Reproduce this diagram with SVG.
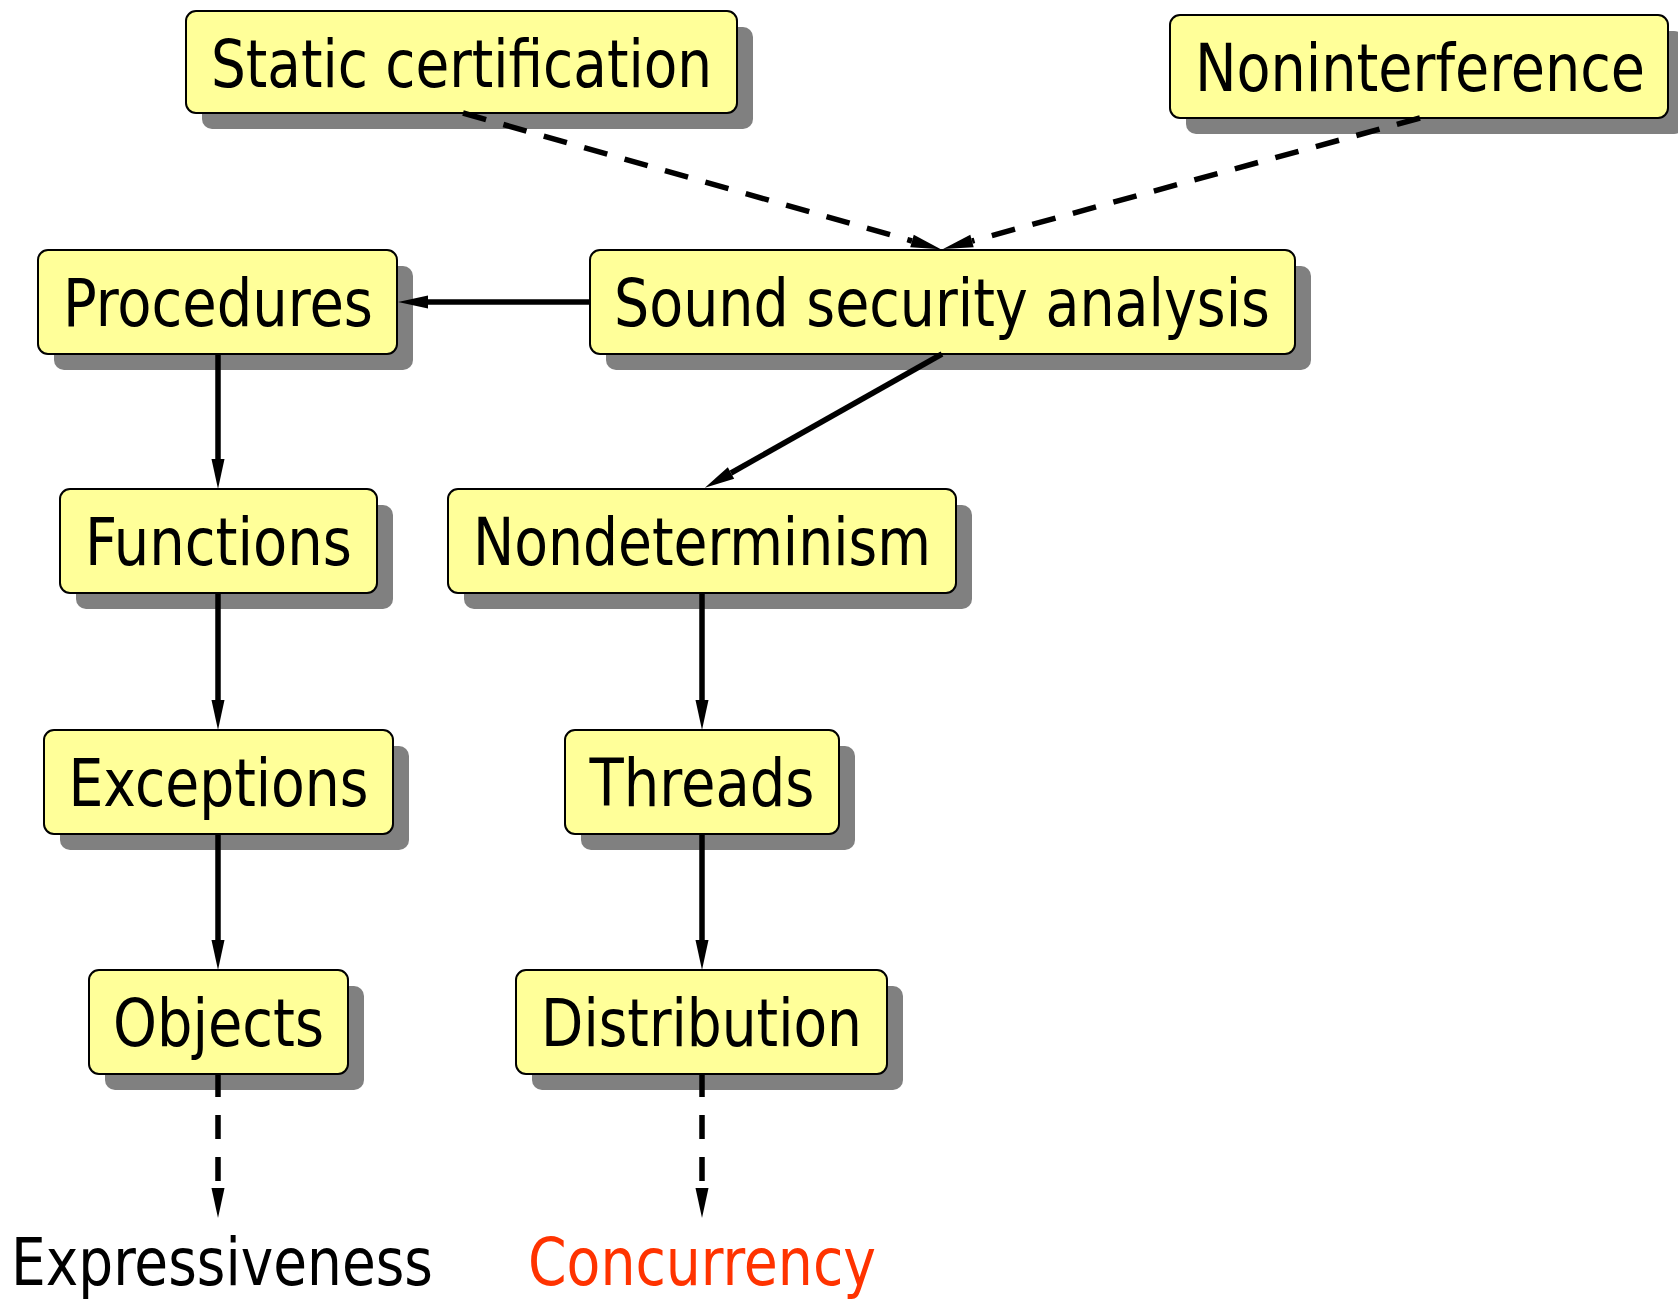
<svg xmlns="http://www.w3.org/2000/svg" width="1678" height="1299" viewBox="0 0 1678 1299">
  <style>
    .shadow { fill: #808080; }
    .box { fill: #ffff99; stroke: #000000; stroke-width: 2; }
    .label { font-family: "DejaVu Sans Condensed", "DejaVu Sans", sans-serif; font-size: 65px; fill: #000000; text-anchor: middle; }
    .red { fill: #ff3300; }
    .edge { fill: none; stroke: #000000; stroke-width: 5.5; }
    .dashed { stroke-dasharray: 24 18; }
  </style>
  <defs>
    <marker id="arrow" markerUnits="userSpaceOnUse" markerWidth="32" markerHeight="14" refX="0" refY="6.5" orient="auto" overflow="visible">
      <path d="M0,0 L30,6.5 L0,13 Z" fill="#000000"/>
    </marker>
  </defs>

  <!-- nodes -->
  <g id="static-certification">
    <rect class="shadow" x="202" y="27" width="551" height="102" rx="10"/>
    <rect class="box" x="186" y="11" width="551" height="102" rx="10"/>
    <text class="label" x="461.5" y="87" textLength="501" lengthAdjust="spacingAndGlyphs">Static certification</text>
  </g>
  <g id="noninterference">
    <rect class="shadow" x="1186" y="31" width="498" height="103" rx="10"/>
    <rect class="box" x="1170" y="15" width="498" height="103" rx="10"/>
    <text class="label" x="1420" y="91" textLength="450" lengthAdjust="spacingAndGlyphs">Noninterference</text>
  </g>
  <g id="procedures">
    <rect class="shadow" x="54" y="266" width="359" height="104" rx="10"/>
    <rect class="box" x="38" y="250" width="359" height="104" rx="10"/>
    <text class="label" x="218" y="326" textLength="310" lengthAdjust="spacingAndGlyphs">Procedures</text>
  </g>
  <g id="sound-security-analysis">
    <rect class="shadow" x="606" y="266" width="705" height="104" rx="10"/>
    <rect class="box" x="590" y="250" width="705" height="104" rx="10"/>
    <text class="label" x="942" y="326" textLength="656" lengthAdjust="spacingAndGlyphs">Sound security analysis</text>
  </g>
  <g id="functions">
    <rect class="shadow" x="76" y="505" width="317" height="104" rx="10"/>
    <rect class="box" x="60" y="489" width="317" height="104" rx="10"/>
    <text class="label" x="218.5" y="565" textLength="267" lengthAdjust="spacingAndGlyphs">Functions</text>
  </g>
  <g id="nondeterminism">
    <rect class="shadow" x="464" y="505" width="508" height="104" rx="10"/>
    <rect class="box" x="448" y="489" width="508" height="104" rx="10"/>
    <text class="label" x="702" y="565" textLength="458" lengthAdjust="spacingAndGlyphs">Nondeterminism</text>
  </g>
  <g id="exceptions">
    <rect class="shadow" x="60" y="746" width="349" height="104" rx="10"/>
    <rect class="box" x="44" y="730" width="349" height="104" rx="10"/>
    <text class="label" x="218.5" y="806" textLength="300" lengthAdjust="spacingAndGlyphs">Exceptions</text>
  </g>
  <g id="threads">
    <rect class="shadow" x="581" y="746" width="274" height="104" rx="10"/>
    <rect class="box" x="565" y="730" width="274" height="104" rx="10"/>
    <text class="label" x="702" y="806" textLength="225" lengthAdjust="spacingAndGlyphs">Threads</text>
  </g>
  <g id="objects">
    <rect class="shadow" x="105" y="986" width="259" height="104" rx="10"/>
    <rect class="box" x="89" y="970" width="259" height="104" rx="10"/>
    <text class="label" x="218.5" y="1046" textLength="211" lengthAdjust="spacingAndGlyphs">Objects</text>
  </g>
  <g id="distribution">
    <rect class="shadow" x="532" y="986" width="371" height="104" rx="10"/>
    <rect class="box" x="516" y="970" width="371" height="104" rx="10"/>
    <text class="label" x="701.5" y="1046" textLength="321" lengthAdjust="spacingAndGlyphs">Distribution</text>
  </g>
  <g id="expressiveness">
    <text class="label" x="222" y="1285" textLength="422" lengthAdjust="spacingAndGlyphs">Expressiveness</text>
  </g>
  <g id="concurrency">
    <text class="label red" x="702" y="1285" textLength="348" lengthAdjust="spacingAndGlyphs">Concurrency</text>
  </g>

  <!-- connectors, drawn over the node shadows -->
  <g id="connectors">
    <line class="edge dashed" x1="463" y1="113" x2="912" y2="241" marker-end="url(#arrow)"/>
    <line class="edge dashed" x1="1420" y1="118" x2="972" y2="241" marker-end="url(#arrow)"/>
    <line class="edge" x1="590" y1="302" x2="428" y2="302" marker-end="url(#arrow)"/>
    <line class="edge" x1="942" y1="354" x2="731" y2="473" marker-end="url(#arrow)"/>
    <line class="edge" x1="218" y1="354" x2="218" y2="459" marker-end="url(#arrow)"/>
    <line class="edge" x1="218" y1="593" x2="218" y2="700" marker-end="url(#arrow)"/>
    <line class="edge" x1="218" y1="834" x2="218" y2="940" marker-end="url(#arrow)"/>
    <line class="edge dashed" x1="218" y1="1073" x2="218" y2="1188" marker-end="url(#arrow)"/>
    <line class="edge" x1="702" y1="593" x2="702" y2="700" marker-end="url(#arrow)"/>
    <line class="edge" x1="702" y1="834" x2="702" y2="940" marker-end="url(#arrow)"/>
    <line class="edge dashed" x1="702" y1="1073" x2="702" y2="1188" marker-end="url(#arrow)"/>
  </g>
</svg>
